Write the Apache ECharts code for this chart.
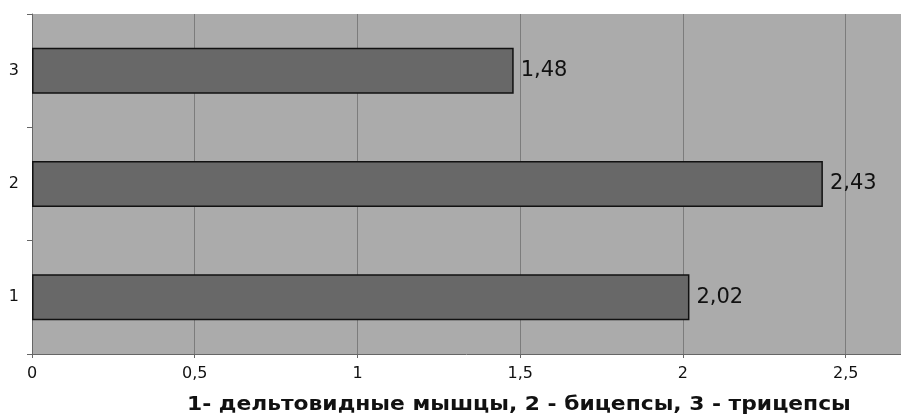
<!DOCTYPE html>
<html>
<head>
<meta charset="utf-8">
<script src="https://cdn.jsdelivr.net/npm/echarts@6/dist/echarts.min.js"></script>
<style>
  html, body { margin: 0; padding: 0; background: #ffffff; }
  #chart { width: 901px; height: 415px; }
</style>
</head>
<body>
<div id="chart"></div>
<script>
// Muscle groups (category axis, bottom to top)
const categories = ['1', '2', '3'];
// Measured values per muscle group
const values = [2.02, 2.43, 1.48];
// Value axis ticks
const axisMin = 0;
const axisMax = 2.67;
const axisStep = 0.5;
const captionText = '1- дельтовидные мышцы, 2 - бицепсы, 3 - трицепсы';

const toComma = v => String(v).replace('.', ',');

const chart = echarts.init(document.getElementById('chart'), null, { renderer: 'canvas' });
chart.setOption({
  animation: false,
  backgroundColor: '#ffffff',
  graphic: [{
    type: 'text',
    left: 187,
    top: 395,
    scaleX: 1.09,
    style: {
      text: captionText,
      font: 'bold 20px "DejaVu Sans"',
      fill: '#111111'
    }
  }],
  grid: {
    left: 32,
    top: 14,
    right: 0,
    bottom: 61,
    show: true,
    backgroundColor: '#ababab',
    borderWidth: 0
  },
  xAxis: {
    type: 'value',
    min: axisMin,
    max: axisMax,
    interval: axisStep,
    axisLine: { show: true, lineStyle: { color: '#666666', width: 1 } },
    axisTick: { show: true, length: 4, lineStyle: { color: '#666666' } },
    axisLabel: {
      showMaxLabel: false,
      margin: 12,
      fontFamily: 'DejaVu Sans',
      fontSize: 16,
      color: '#111111',
      formatter: v => toComma(v)
    },
    splitLine: { show: true, lineStyle: { color: '#7c7c7c', width: 1 } }
  },
  yAxis: {
    type: 'category',
    data: categories,
    axisLine: { show: true, lineStyle: { color: '#666666', width: 1 } },
    axisTick: { show: true, length: 5, lineStyle: { color: '#666666' } },
    axisLabel: {
      margin: 13,
      fontFamily: 'DejaVu Sans',
      fontSize: 16,
      color: '#111111'
    },
    splitLine: { show: false }
  },
  series: [{
    type: 'bar',
    data: values,
    barWidth: 46,
    itemStyle: {
      color: '#686868',
      borderColor: '#111111',
      borderWidth: 1.5
    },
    label: {
      show: true,
      position: 'right',
      distance: 7,
      fontFamily: 'DejaVu Sans',
      fontSize: 21,
      color: '#111111',
      formatter: p => p.value.toFixed(2).replace('.', ',')
    }
  }]
});
</script>
</body>
</html>
